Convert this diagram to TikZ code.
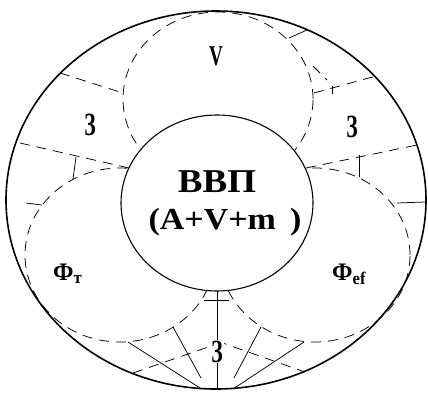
\documentclass[tikz,border=0pt]{standalone}
\usepackage{fontspec}
\setmainfont{Liberation Serif}
\tikzset{
  outerline/.style={line width=1.6pt},
  innerline/.style={line width=1.1pt},
  dsh/.style={line width=0.75pt, dash pattern=on 10pt off 7pt},
  thinline/.style={line width=0.75pt},
  lbl/.style={inner sep=0pt, anchor=base},
  lblw/.style={inner sep=0pt, anchor=base west},
}
\begin{document}
\begin{tikzpicture}[x=1pt,y=-1pt]
\useasboundingbox (0,0) rectangle (428,394);
% outer circle
\draw[outerline] (216,200) ellipse [x radius=210pt, y radius=189pt];
% dashed circles
\draw[dsh] (218,99) ellipse [x radius=95pt, y radius=87pt];
\draw[dsh] (120,255) ellipse [x radius=95pt, y radius=87pt];
\draw[dsh] (315,255) ellipse [x radius=95pt, y radius=87pt];
% central circle
\draw[innerline, fill=white] (217,203) ellipse [x radius=96pt, y radius=88pt];

% named end points
\coordinate (tl1a) at (60,73);   \coordinate (tl1b) at (123,93);
\coordinate (tl2a) at (129,168); \coordinate (tl2b) at (20,143);
\coordinate (tlt1) at (76,157);  \coordinate (tlt2) at (73,179);
\coordinate (tl3a) at (26,203);  \coordinate (tl3b) at (42,205);
\coordinate (tr1a) at (314,93);  \coordinate (tr1b) at (376,76);
\coordinate (trk1) at (332,86);  \coordinate (trk2) at (332,94);
\coordinate (tr2a) at (306,168); \coordinate (tr2b) at (417,145);
\coordinate (trt1) at (359,155); \coordinate (trt2) at (359,177);
\coordinate (tr3a) at (289,38);  \coordinate (tr3b) at (307,30);
\coordinate (tr4a) at (313,66);  \coordinate (tr4b) at (327,80);
\coordinate (tr5a) at (397,203); \coordinate (tr5b) at (425,202);
\coordinate (b0a) at (217,291);  \coordinate (b0b) at (217,389);
\coordinate (b0t1) at (204,300); \coordinate (b0t2) at (229,300);
\coordinate (b1a) at (128,342);  \coordinate (b1b) at (200,388);
\coordinate (b2a) at (173,327);  \coordinate (b2b) at (201,378);
\coordinate (b3a) at (133,373);  \coordinate (b3b) at (217,344);
\coordinate (b4a) at (304,342);  \coordinate (b4b) at (233,389);
\coordinate (b5a) at (261,327);  \coordinate (b5b) at (234,378);
\coordinate (b6a) at (217,341);  \coordinate (b6b) at (305,372);

% top-left region
\draw[dsh] (tl1a) -- (tl1b);
\draw[dsh] (tl2a) -- (tl2b);
\draw[thinline] (tlt1) -- (tlt2);
\draw[thinline] (tl3a) -- (tl3b);
% top-right region
\draw[dsh] (tr1a) -- (tr1b);
\draw[thinline] (trk1) -- (trk2);
\draw[dsh] (tr2a) -- (tr2b);
\draw[thinline] (trt1) -- (trt2);
\draw[thinline] (tr3a) -- (tr3b);
\draw[dsh] (tr4a) -- (tr4b);
\draw[thinline] (tr5a) -- (tr5b);
% bottom region
\draw[thinline] (b0a) -- (b0b);
\draw[thinline] (b0t1) -- (b0t2);
\draw[thinline] (b1a) -- (b1b);
\draw[thinline] (b2a) -- (b2b);
\draw[dsh] (b3a) -- (b3b);
\draw[thinline] (b4a) -- (b4b);
\draw[thinline] (b5a) -- (b5b);
\draw[dsh] (b6a) -- (b6b);

% labels
\node[lbl] (vvp) at (217,192) {\fontsize{37}{40}\selectfont\bfseries\scalebox{1}[0.9]{ВВП}};
\node[lbl] (form) at (225,229) {\fontsize{34}{38}\selectfont\bfseries\scalebox{1}[0.9]{(A+V+m\ \,)}};
\node[lbl] (vlab) at (216,65) {\fontsize{32}{34}\selectfont\bfseries\scalebox{0.6}[0.9]{V}};
\node[lbl] (z1) at (90,135) {\fontsize{36}{38}\selectfont\bfseries\scalebox{0.6}[0.9]{З}};
\node[lbl] (z2) at (352,137) {\fontsize{36}{38}\selectfont\bfseries\scalebox{0.6}[0.9]{З}};
\node[lbl, fill=white, inner sep=1pt] (z3) at (217,362) {\fontsize{36}{38}\selectfont\bfseries\scalebox{0.6}[0.9]{З}};
\node[lblw] (ft) at (53,280) {\fontsize{28}{30}\selectfont\bfseries\scalebox{0.85}[0.9]{Ф\textsubscript{т}}};
\node[lblw] (fef) at (332,280) {\fontsize{28}{30}\selectfont\bfseries\scalebox{0.85}[0.9]{Ф\textsubscript{ef}}};
\end{tikzpicture}
\end{document}
